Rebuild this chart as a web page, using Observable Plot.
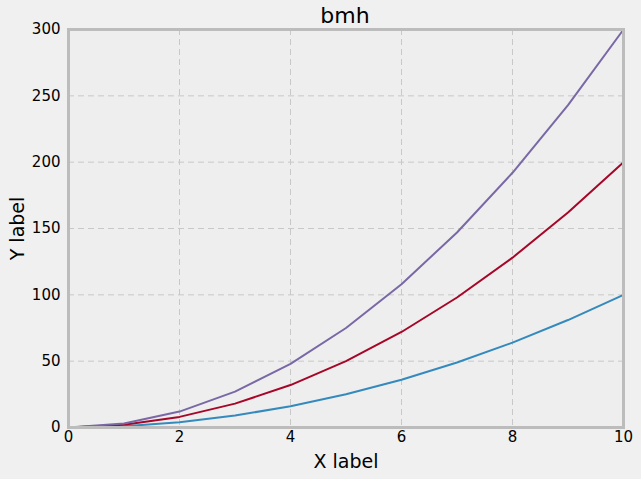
<!DOCTYPE html>
<html>
<head>
<meta charset="utf-8">
<script src="https://cdn.jsdelivr.net/npm/d3@7"></script>
<script src="https://cdn.jsdelivr.net/npm/@observablehq/plot@0.6"></script>
<style>
  html, body { margin: 0; padding: 0; background: #f0f0f0; }
  body { width: 641px; height: 479px; overflow: hidden; font-family: "DejaVu Sans", sans-serif; }
  #title { position: absolute; left: 67px; width: 556px; top: 3px; text-align: center; font-size: 22px; color: #000; }
  #chart { position: absolute; left: 0; top: 0; }
</style>
</head>
<body>
<div id="chart"></div>
<div id="title">bmh</div>
<script>
const xs = [0, 1, 2, 3, 4, 5, 6, 7, 8, 9, 10];
const seriesA = [0, 1, 4, 9, 16, 25, 36, 49, 64, 81, 100];
const seriesB = [0, 2, 8, 18, 32, 50, 72, 98, 128, 162, 200];
const seriesC = [0, 3, 12, 27, 48, 75, 108, 147, 192, 243, 300];
const xTicks = [0, 2, 4, 6, 8, 10];
const yTicks = [0, 50, 100, 150, 200, 250, 300];
const seriesNames = ["A", "B", "C"];
const seriesColors = ["#348ABD", "#A60628", "#7A68A6"];

const seriesValues = [seriesA, seriesB, seriesC];
const data = [];
seriesNames.forEach((s, i) => xs.forEach((x, j) => data.push({series: s, x, y: seriesValues[i][j]})));

const plot = Plot.plot({
  width: 641,
  height: 479,
  marginLeft: 68,
  marginRight: 18,
  marginTop: 29,
  marginBottom: 52,
  style: {background: "transparent", fontFamily: "DejaVu Sans, sans-serif", fontSize: "15px", color: "#000"},
  x: {domain: [0, 10]},
  y: {domain: [0, 300]},
  color: {domain: seriesNames, range: seriesColors},
  marks: [
    Plot.frame({fill: "#eeeeee", stroke: null}),
    Plot.ruleX(xTicks.slice(1, -1), {stroke: "#c8c8c8", strokeWidth: 1, strokeDasharray: "6,4"}),
    Plot.ruleY(yTicks.slice(1, -1), {stroke: "#c8c8c8", strokeWidth: 1, strokeDasharray: "6,4"}),
    Plot.line(data, {x: "x", y: "y", stroke: "series", strokeWidth: 2}),
    Plot.frame({stroke: "#bcbcbc", strokeWidth: 3}),
    Plot.axisX({ticks: xTicks, tickSize: 0, tickPadding: 4, fontSize: 15, label: "X label", labelAnchor: "center", labelArrow: "none", labelOffset: 40}),
    Plot.axisY({ticks: yTicks, tickSize: 0, tickPadding: 8, fontSize: 15, label: "Y label", labelAnchor: "center", labelArrow: "none", labelOffset: 58})
  ]
});
d3.select(plot).selectAll("[aria-label='x-axis label'] text, [aria-label='y-axis label'] text").style("font-size", "19px");
document.getElementById("chart").appendChild(plot);
</script>
</body>
</html>
